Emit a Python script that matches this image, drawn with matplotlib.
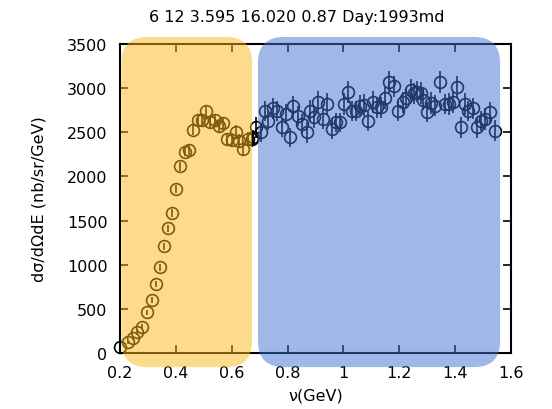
import numpy as np
import matplotlib
matplotlib.use("Agg")
import matplotlib.pyplot as plt
from matplotlib.patches import FancyBboxPatch

# data
nu = [0.200, 0.230, 0.245, 0.262, 0.280, 0.298, 0.313, 0.329, 0.344, 0.359,
      0.373, 0.385, 0.400, 0.415, 0.433, 0.448, 0.462, 0.478, 0.492, 0.508,
      0.522, 0.540, 0.556, 0.570, 0.582, 0.600, 0.615, 0.627, 0.641, 0.657,
      0.672, 0.677, 0.686,
      0.704, 0.719, 0.731, 0.749, 0.761, 0.779, 0.794, 0.809, 0.821, 0.836,
      0.851, 0.868, 0.880, 0.895, 0.910, 0.926, 0.940, 0.958, 0.973, 0.988,
      1.003, 1.015, 1.030, 1.045, 1.059, 1.075, 1.089, 1.105, 1.119, 1.133,
      1.149, 1.164, 1.181, 1.197, 1.212, 1.224, 1.241, 1.253, 1.264, 1.277,
      1.286, 1.300, 1.314, 1.328, 1.346, 1.364, 1.379, 1.393, 1.406, 1.420,
      1.435, 1.447, 1.465, 1.479, 1.493, 1.507, 1.525, 1.543]
xsec = [70, 121, 166, 234, 298, 461, 600, 781, 971, 1208,
        1412, 1585, 1857, 2114, 2280, 2302, 2529, 2642, 2642, 2744,
        2613, 2642, 2574, 2605, 2424, 2416, 2499, 2404, 2310, 2424,
        2424, 2443, 2556,
        2500, 2744, 2631, 2771, 2744, 2556, 2707, 2443, 2794, 2688,
        2593, 2499, 2744, 2669, 2846, 2650, 2820, 2537, 2613, 2613,
        2820, 2952, 2744, 2744, 2801, 2809, 2631, 2846, 2782, 2782,
        2884, 3066, 3020, 2744, 2839, 2884, 2982, 2944, 2959, 2944,
        2869, 2733, 2831, 2801, 3073, 2820, 2820, 2839, 3009, 2556,
        2820, 2744, 2771, 2556, 2631, 2650, 2726, 2518]
err = [20, 20, 22, 25, 28, 30, 32, 35, 38, 40,
       42, 45, 48, 50, 52, 55, 58, 60, 62, 65,
       65, 68, 70, 72, 72, 75, 78, 80, 80, 82,
       85, 88, 120,
       110, 115, 110, 120, 115, 110, 115, 110, 120, 115,
       110, 115, 120, 115, 125, 110, 120, 115, 110, 110,
       120, 125, 115, 115, 120, 120, 115, 125, 120, 120,
       125, 125, 120, 115, 120, 120, 125, 120, 120, 125,
       120, 115, 120, 120, 125, 115, 120, 120, 125, 115,
       120, 115, 120, 115, 115, 120, 120, 120]

# shaded regions (nu range)
region_lo = [0.205, 0.694]
region_hi = [0.673, 1.561]
region_col = ["#fcb81c", "#4272d2"]

title = "6 12 3.595 16.020 0.87 Day:1993md"
fs = 11.5

fig = plt.figure(figsize=(5.52, 4.10), dpi=100)
ax = fig.add_axes([0.2174, 0.1366, 0.7083, 0.7536])

ax.errorbar(nu, xsec, yerr=err, fmt="o", mfc="none", mec="black", ms=8.5,
            mew=1.2, ecolor="black", elinewidth=1.2, capsize=0, zorder=2,
            clip_on=False)

ax.set_xlim(0.2, 1.6)
ax.set_ylim(0, 3500)
ax.set_xticks(np.arange(0.2, 1.61, 0.2))
ax.set_xticklabels(["0.2", "0.4", "0.6", "0.8", "1", "1.2", "1.4", "1.6"])
ax.set_yticks(np.arange(0, 3501, 500))
ax.tick_params(direction="in", length=6, width=1.2, top=True, right=True,
               labelsize=fs, pad=9)
for s in ax.spines.values():
    s.set_linewidth(1.5)

ax.set_xlabel("ν(GeV)", fontsize=fs, labelpad=5)
ax.set_ylabel("dσ/dΩdE (nb/sr/GeV)", fontsize=fs, labelpad=15)
fig.text(0.538, 0.957, title, ha="center", va="center", fontsize=fs)

# rounded boxes drawn over the points, in pixel space
fig.canvas.draw()
for lo, hi, c in zip(region_lo, region_hi, region_col):
    (x0, y0) = ax.transData.transform((lo, -160))
    (x1, y1) = ax.transData.transform((hi, 3580))
    box = FancyBboxPatch((x0 + 26, y0 + 26), (x1 - x0) - 52, (y1 - y0) - 52,
                         boxstyle="round,pad=26", transform=None,
                         facecolor=c, edgecolor="none", alpha=0.5,
                         zorder=5, clip_on=False)
    fig.add_artist(box)

fig.savefig("out.png", dpi=100)
